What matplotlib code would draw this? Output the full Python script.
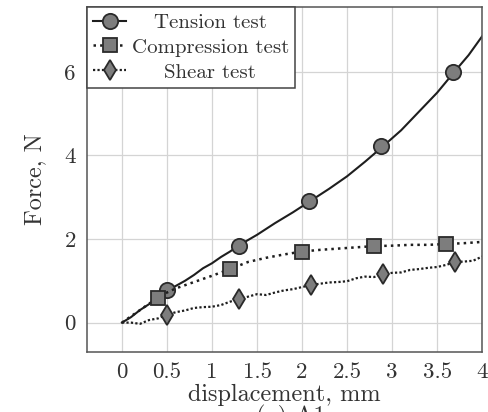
import matplotlib
matplotlib.use("Agg")
import matplotlib.pyplot as plt
from matplotlib.lines import Line2D

plt.rcParams['font.family'] = ['cmr10', 'DejaVu Serif']
plt.rcParams['mathtext.fontset'] = 'cm'
plt.rcParams['axes.formatter.use_mathtext'] = True

# tension test
tension_x = [0, 0.1, 0.2, 0.3, 0.4, 0.5, 0.6, 0.7, 0.8, 0.9, 1.0, 1.1, 1.2, 1.3,
             1.5, 1.7, 1.9, 2.1, 2.3, 2.5, 2.7, 2.9, 3.1, 3.3, 3.5, 3.7, 3.85, 4.0]
tension_y = [0, 0.13, 0.3, 0.44, 0.6, 0.76, 0.88, 1.0, 1.14, 1.3, 1.42, 1.57, 1.7, 1.85,
             2.1, 2.38, 2.64, 2.92, 3.2, 3.5, 3.85, 4.22, 4.6, 5.05, 5.5, 6.02, 6.4, 6.85]
tension_mx = [0.5, 1.3, 2.08, 2.88, 3.68]
tension_my = [0.78, 1.84, 2.92, 4.22, 6.0]

# compression test
comp_x = [0, 0.1, 0.2, 0.3, 0.4, 0.5, 0.6, 0.8, 1.0, 1.2, 1.4, 1.6, 1.8, 2.0,
          2.2, 2.4, 2.6, 2.8, 3.0, 3.2, 3.4, 3.6, 3.8, 4.0]
comp_y = [0, 0.15, 0.3, 0.45, 0.6, 0.72, 0.82, 0.97, 1.12, 1.28, 1.45, 1.55, 1.63, 1.7,
          1.74, 1.77, 1.8, 1.83, 1.84, 1.86, 1.86, 1.88, 1.9, 1.93]
comp_mx = [0.4, 1.2, 2.0, 2.8, 3.6]
comp_my = [0.6, 1.28, 1.7, 1.83, 1.88]

# shear test
shear_x = [0, 0.1, 0.2, 0.3, 0.4, 0.5, 0.6, 0.7, 0.8, 0.9, 1.0, 1.1, 1.2, 1.3, 1.4, 1.5,
           1.6, 1.7, 1.8, 1.9, 2.0, 2.1, 2.2, 2.3, 2.4, 2.5, 2.6, 2.7, 2.8, 2.9, 3.0,
           3.1, 3.2, 3.3, 3.4, 3.5, 3.6, 3.7, 3.8, 3.9, 4.0]
shear_y = [0, 0.0, -0.03, 0.06, 0.1, 0.19, 0.25, 0.29, 0.35, 0.37, 0.38, 0.42, 0.5, 0.56,
           0.62, 0.68, 0.66, 0.72, 0.77, 0.8, 0.85, 0.9, 0.93, 0.96, 0.97, 0.99, 1.06,
           1.1, 1.09, 1.16, 1.19, 1.2, 1.26, 1.28, 1.31, 1.33, 1.38, 1.45, 1.46, 1.48, 1.58]
shear_mx = [0.5, 1.3, 2.1, 2.9, 3.7]
shear_my = [0.19, 0.56, 0.91, 1.16, 1.46]

xticks = [0, 0.5, 1, 1.5, 2, 2.5, 3, 3.5, 4]
xtick_labels = ['0', '0.5', '1', '1.5', '2', '2.5', '3', '3.5', '4']
yticks = [0, 2, 4, 6]
ytick_labels = ['0', '2', '4', '6']

line_col = '#1e1e1e'
fill_col = '#7d7d7d'
edge_col = '#2a2a2a'

fig = plt.figure(figsize=(4.88, 4.12), dpi=100)
ax = fig.add_axes([0.178, 0.146, 0.81, 0.837])

ax.plot(tension_x, tension_y, '-', color=line_col, lw=1.5)
ax.plot(tension_mx, tension_my, 'o', ms=11, mfc=fill_col, mec=edge_col, mew=1.3)
ax.plot(comp_x, comp_y, ':', color=line_col, lw=1.8)
ax.plot(comp_mx, comp_my, 's', ms=10.5, mfc=fill_col, mec=edge_col, mew=1.3)
ax.plot(shear_x, shear_y, color=line_col, lw=1.6, linestyle=(0, (1, 1)))
ax.plot(shear_mx, shear_my, 'd', ms=10, mfc=fill_col, mec=edge_col, mew=1.3)

ax.set_xlim(-0.39, 4.0)
ax.set_ylim(-0.7, 7.55)
ax.set_xticks(xticks)
ax.set_xticklabels(xtick_labels)
ax.set_yticks(yticks)
ax.set_yticklabels(ytick_labels)
ax.tick_params(length=0, labelsize=16.5, colors='#333333')
ax.tick_params(axis='x', pad=8)
ax.tick_params(axis='y', pad=8)
ax.grid(True, color='#d4d4d4', lw=0.9)
ax.set_axisbelow(True)
for s in ax.spines.values():
    s.set_color('#555555')
    s.set_linewidth(1.1)

ax.set_xlabel('displacement, mm', fontsize=17.5, color='#333333', labelpad=1)
ax.set_ylabel('Force, N', fontsize=17.5, color='#333333', labelpad=13)

handles = [
    Line2D([], [], color=line_col, lw=1.5, marker='o', ms=11, mfc=fill_col, mec=edge_col, mew=1.3),
    Line2D([], [], color=line_col, lw=1.8, ls=':', marker='s', ms=10.5, mfc=fill_col, mec=edge_col, mew=1.3),
    Line2D([], [], color=line_col, lw=1.6, ls=(0, (1, 1)), marker='d', ms=10, mfc=fill_col, mec=edge_col, mew=1.3),
]
labels = ['Tension test', 'Compression test', 'Shear test']
leg = ax.legend(handles, labels, loc='upper left', bbox_to_anchor=(0, 1), fontsize=15,
                frameon=True, fancybox=False, borderaxespad=0, handlelength=1.6,
                handletextpad=0.25, borderpad=0.3, labelspacing=0.3, framealpha=1)
leg.get_frame().set_edgecolor('#444444')
leg.get_frame().set_linewidth(1.1)
for t in leg.get_texts():
    t.set_color('#333333')

# centre the legend labels within the box
fig.canvas.draw()
widths = [t.get_window_extent().width for t in leg.get_texts()]
wmax = max(widths)
for t, w in zip(leg.get_texts(), widths):
    t.set_x((wmax - w) / 2)

fig.text(0.595, -0.014, '(a) A1', fontsize=17.5, ha='center', va='center', color='#333333')

fig.savefig('out.png', dpi=100)
